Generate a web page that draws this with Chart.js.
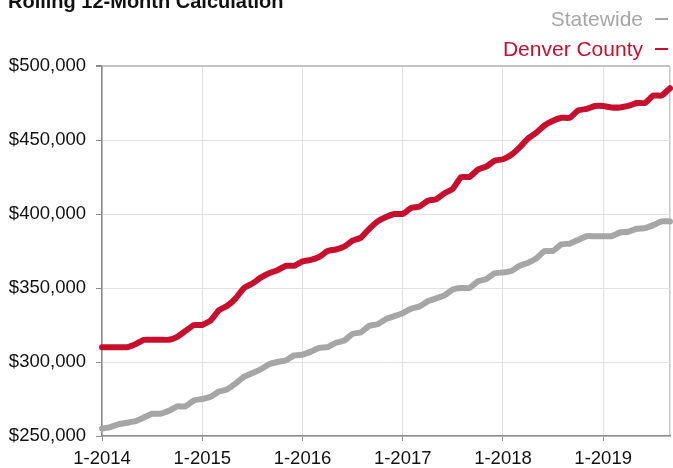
<!DOCTYPE html>
<html>
<head>
<meta charset="utf-8">
<script src="https://cdn.jsdelivr.net/npm/chart.js@4"></script>
<style>
  html, body { margin: 0; padding: 0; background: #fff; overflow: hidden; }
  #wrap { position: relative; width: 673px; height: 468px; font-family: "Liberation Sans", Arial, sans-serif; }
  #title { position: absolute; left: 8px; top: -9px; font-size: 20px; font-weight: bold; line-height: 20px; color: #111; white-space: nowrap; }
  #legend { position: absolute; right: 5px; top: 4px; text-align: right; }
  .item { font-size: 21px; line-height: 30px; height: 30px; white-space: nowrap; }
  .dash { display: inline-block; width: 13px; height: 2px; margin-left: 12px; vertical-align: middle; position: relative; top: -1px; }
  canvas { position: absolute; left: 0; top: 0; }
</style>
</head>
<body>
<div id="wrap">
  <canvas id="c" width="673" height="468"></canvas>
  <div id="title">Rolling 12-Month Calculation</div>
  <div id="legend"></div>
</div>
<script>
const seriesNames = ["Statewide", "Denver County"];
const seriesColors = ["#a6a6a6", "#c8102e"];
const startYear = 2014;
const monthCount = 69;
const yTicks = [250000, 300000, 350000, 400000, 450000, 500000];

const months = [];
for (let i = 0; i < monthCount; i++) {
  months.push(((i % 12) + 1) + "-" + (startYear + Math.floor(i / 12)));
}

const statewide = [
  255000, 256000, 258000, 259000, 260000, 262500, 265000, 265000, 267000, 270000,
  270000, 274000, 275000, 276500, 280000, 281500, 285500, 290000, 292500, 295000,
  298500, 300000, 301000, 304500, 305000, 307000, 309500, 310000, 313000, 314500,
  319000, 320000, 324500, 325500, 329000, 331000, 333000, 336000, 337500, 341000,
  343000, 345000, 349000, 350000, 350000, 354500, 356000, 360000, 360500, 361500,
  365000, 367000, 370000, 375000, 375000, 379500, 380000, 382500, 385000, 385000,
  385000, 385000, 387500, 388000, 390000, 390500, 392500, 395000, 395000
];

const denver = [
  310000, 310000, 310000, 310000, 312000, 315000, 315000, 315000, 315000, 317000,
  321000, 325000, 325000, 328000, 335000, 338000, 343000, 350000, 353000, 357000,
  360000, 362000, 365000, 365000, 368000, 369000, 371000, 375000, 376000, 378000,
  382000, 384000, 390000, 395000, 398000, 400000, 400000, 404000, 405000, 409000,
  410000, 414000, 417000, 425000, 425000, 430000, 432000, 436000, 437000, 440000,
  445000, 451000, 455000, 460000, 463000, 465000, 465000, 470000, 471000, 473000,
  473000, 472000, 472000, 473000, 475000, 475000, 480000, 480000, 485000
];

const FONT = "'Liberation Sans', Arial, sans-serif";
const isYearStart = (i) => months[i] && months[i].startsWith("1-");

const chart = new Chart(document.getElementById("c"), {
  type: "line",
  data: {
    labels: months,
    datasets: [
      { label: seriesNames[0], data: statewide, borderColor: seriesColors[0], backgroundColor: seriesColors[0] },
      { label: seriesNames[1], data: denver, borderColor: seriesColors[1], backgroundColor: seriesColors[1] }
    ]
  },
  options: {
    responsive: false,
    animation: false,
    devicePixelRatio: 1,
    layout: { padding: { top: 66, right: 3, left: 0, bottom: 0 } },
    elements: {
      point: { radius: 0, hoverRadius: 0 },
      line: { borderWidth: 6, tension: 0.12, borderJoinStyle: "round", borderCapStyle: "round" }
    },
    plugins: { legend: { display: false }, tooltip: { enabled: false }, title: { display: false } },
    scales: {
      x: {
        type: "category",
        offset: false,
        afterFit: (s) => { s.height = 32; s.paddingRight = 0; s.paddingLeft = 0; },
        border: { display: true, color: "#8a8a8a", width: 1.5 },
        grid: {
          drawOnChartArea: true,
          tickLength: 5,
          color: (ctx) => {
            if (ctx.index === monthCount - 1) return "#c8c8c8";
            return isYearStart(ctx.index) ? "#e2e2e2" : "rgba(0,0,0,0)";
          },
          tickColor: (ctx) => isYearStart(ctx.index) ? "#8a8a8a" : "rgba(0,0,0,0)",
          lineWidth: (ctx) => ctx.index === monthCount - 1 ? 1.5 : 1
        },
        ticks: {
          autoSkip: false,
          maxRotation: 0,
          minRotation: 0,
          padding: 7,
          color: "#111",
          font: { family: FONT, size: 18.5 },
          callback: function (value, index) { return isYearStart(index) ? months[index] : ""; }
        }
      },
      y: {
        min: yTicks[0],
        max: yTicks[yTicks.length - 1],
        afterFit: (s) => { s.width = 102; },
        afterBuildTicks: (s) => { s.ticks = yTicks.map(v => ({ value: v })); },
        border: { display: true, color: "#8a8a8a", width: 1.5 },
        grid: {
          tickLength: 6,
          color: (ctx) => ctx.tick && ctx.tick.value === yTicks[yTicks.length - 1] ? "#c4c4c4" : "#e2e2e2",
          lineWidth: (ctx) => ctx.tick && ctx.tick.value === yTicks[yTicks.length - 1] ? 2 : 1,
          tickColor: "#8a8a8a"
        },
        ticks: {
          padding: 10,
          color: "#111",
          font: { family: FONT, size: 18.5 },
          callback: (v) => "$" + Number(v).toLocaleString("en-US")
        }
      }
    }
  }
});

const legend = document.getElementById("legend");
chart.data.datasets.forEach((ds) => {
  const row = document.createElement("div");
  row.className = "item";
  row.style.color = ds.borderColor;
  const t = document.createElement("span");
  t.textContent = ds.label;
  const d = document.createElement("span");
  d.className = "dash";
  d.style.background = ds.borderColor;
  row.appendChild(t);
  row.appendChild(d);
  legend.appendChild(row);
});
</script>
</body>
</html>
